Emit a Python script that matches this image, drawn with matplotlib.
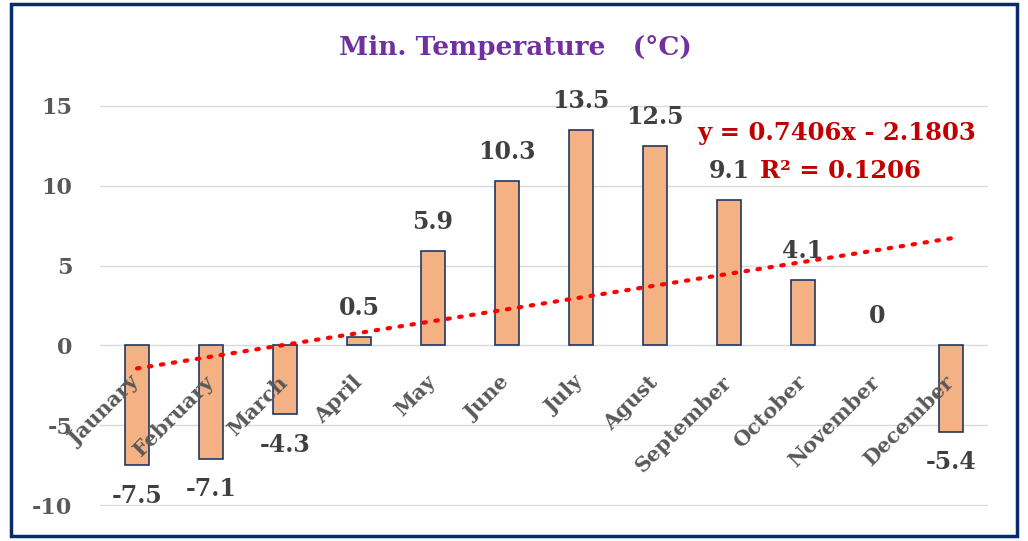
import numpy as np
import matplotlib
matplotlib.use('Agg')
import matplotlib.pyplot as plt
from matplotlib.patches import Rectangle

# ========== data ==========
months = ['Jaunary', 'February', 'March', 'April', 'May', 'June',
          'July', 'Agust', 'September', 'October', 'November', 'December']
min_temp = [-7.5, -7.1, -4.3, 0.5, 5.9, 10.3, 13.5, 12.5, 9.1, 4.1, 0, -5.4]
y_ticks = [-10, -5, 0, 5, 10, 15]

serif = 'DejaVu Serif'
label_grey = '#595959'
value_grey = '#404040'

x = np.arange(1, len(months) + 1)
y = np.array(min_temp)

# linear trend
slope, intercept = np.polyfit(x, y, 1)
fit = slope * x + intercept
r2 = 1 - np.sum((y - fit) ** 2) / np.sum((y - y.mean()) ** 2)

fig = plt.figure(figsize=(10.28, 5.41), dpi=100)
ax = fig.add_axes([100 / 1028, 1 - 506 / 541, 888 / 1028, 401 / 541])

edge_w = [1.2 if v != 0 else 0 for v in min_temp]
ax.bar(x, y, width=0.32, color='#F4B183', edgecolor='#1F3864', linewidth=edge_w, zorder=2)

# data labels
for xi, yi in zip(x, y):
    off = 21 if yi >= 0 else -22
    ax.annotate('{:g}'.format(yi), (xi, yi), xytext=(0, off), textcoords='offset points',
                ha='center', va='center', fontsize=17, fontweight='bold',
                family=serif, color=value_grey, zorder=4)

# trend line
ax.plot(x, fit, color='#FF0000', linestyle=(0, (0.6, 2.3)), linewidth=3,
        dash_capstyle='round', zorder=3)
eq_text = 'y = {:.4f}x - {:.4f}'.format(slope, abs(intercept))
ax.text(10.46, 13.3, eq_text, ha='center', va='center', fontsize=17.5,
        fontweight='bold', family=serif, color='#C00000', zorder=5)
ax.text(10.5, 10.95, 'R² = {:.4f}'.format(r2), ha='center', va='center', fontsize=17.5,
        fontweight='bold', family=serif, color='#C00000', zorder=5)

# month names sit just under the zero line
for xi, m in zip(x, months):
    ax.text(xi - 0.1, -1.65, m, rotation=45, rotation_mode='anchor',
            ha='right', va='top', fontsize=15, fontweight='bold',
            family=serif, color=label_grey, zorder=3)

ax.set_xlim(0.5, 12.5)
ax.set_ylim(-10.05, 15.05)
ax.set_yticks(y_ticks)
ax.set_yticklabels([str(t) for t in y_ticks], fontsize=16, fontweight='bold',
                   family=serif, color=label_grey)
ax.set_xticks([])
ax.tick_params(axis='y', length=0, pad=20)
ax.grid(axis='y', color='#D9D9D9', linewidth=1, zorder=0)
ax.set_axisbelow(True)
for s in ax.spines.values():
    s.set_visible(False)

fig.text(515 / 1028, 1 - 47 / 541, 'Min. Temperature   (°C)', ha='center', va='center',
         fontsize=19, fontweight='bold', family=serif, color='#7030A0')

# outer frame
fig.patches.append(Rectangle((11 / 1028, 5 / 541), 1006 / 1028, 532 / 541,
                             transform=fig.transFigure, fill=False,
                             edgecolor='#0B2A6B', linewidth=2.5))

fig.savefig('out.png', dpi=100)
